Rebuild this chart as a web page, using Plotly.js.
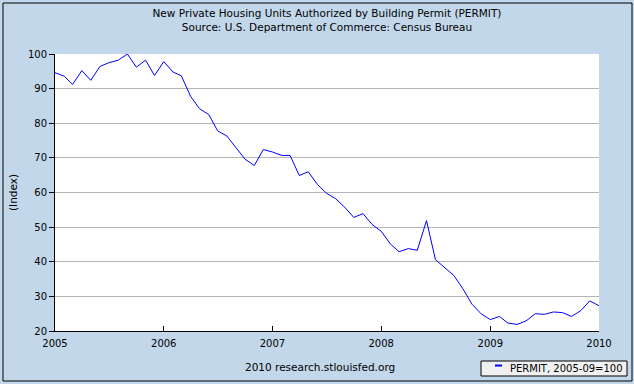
<!DOCTYPE html>
<html>
<head>
<meta charset="utf-8">
<script src="https://cdn.plot.ly/plotly-3.0.1.min.js"></script>
<style>html,body{margin:0;padding:0;background:#c2d7ea;}#chart{width:634px;height:384px;}</style>
</head>
<body>
<div id="chart"></div>
<script>
// Months (first of month), Jan 2005 .. Jan 2010
const months = [
  "2005-01-01","2005-02-01","2005-03-01","2005-04-01","2005-05-01","2005-06-01","2005-07-01","2005-08-01","2005-09-01","2005-10-01","2005-11-01","2005-12-01",
  "2006-01-01","2006-02-01","2006-03-01","2006-04-01","2006-05-01","2006-06-01","2006-07-01","2006-08-01","2006-09-01","2006-10-01","2006-11-01","2006-12-01",
  "2007-01-01","2007-02-01","2007-03-01","2007-04-01","2007-05-01","2007-06-01","2007-07-01","2007-08-01","2007-09-01","2007-10-01","2007-11-01","2007-12-01",
  "2008-01-01","2008-02-01","2008-03-01","2008-04-01","2008-05-01","2008-06-01","2008-07-01","2008-08-01","2008-09-01","2008-10-01","2008-11-01","2008-12-01",
  "2009-01-01","2009-02-01","2009-03-01","2009-04-01","2009-05-01","2009-06-01","2009-07-01","2009-08-01","2009-09-01","2009-10-01","2009-11-01","2009-12-01",
  "2010-01-01"
];
// PERMIT index, 2005-09 = 100
const permit = [
  94.6, 93.6, 91.2, 95.2, 92.4, 96.4, 97.5, 98.2, 100.0, 96.2, 98.2, 93.8,
  97.8, 94.8, 93.7, 87.8, 84.2, 82.5, 77.8, 76.3, 72.9, 69.6, 67.8, 72.4,
  71.7, 70.7, 70.7, 64.9, 66.0, 62.3, 59.8, 58.2, 55.7, 52.8, 53.9, 50.8,
  48.8, 45.1, 42.9, 43.8, 43.3, 51.9, 40.6, 38.2, 36.0, 32.2, 27.7, 25.0,
  23.3, 24.2, 22.3, 21.9, 22.9, 25.0, 24.8, 25.5, 25.3, 24.2, 25.9, 28.7,
  27.3
];
const yearTicks = ["2005-01-01","2006-01-01","2007-01-01","2008-01-01","2009-01-01","2010-01-01"];
const yearLabels = ["2005","2006","2007","2008","2009","2010"];
const seriesName = "PERMIT, 2005-09=100";
const titleText = "New Private Housing Units Authorized by Building Permit (PERMIT)<br>Source: U.S. Department of Commerce: Census Bureau";
const footerText = "2010 research.stlouisfed.org";

const W = 634, H = 384;
const M = {l: 55, r: 35, t: 54, b: 53};
const PW = W - M.l - M.r, PH = H - M.t - M.b;
const px = x => (x - M.l) / PW;
const py = y => (H - M.b - y) / PH;

const FONT = "DejaVu Sans, Verdana, sans-serif";
const BLUE = "#0000ff";

const trace = {
  x: months, y: permit, type: "scatter", mode: "lines",
  name: seriesName,
  line: {color: BLUE, width: 1},
  showlegend: false, hoverinfo: "x+y"
};

const layout = {
  width: W, height: H,
  margin: M,
  paper_bgcolor: "#c2d7ea",
  plot_bgcolor: "#ffffff",
  font: {family: FONT, size: 10, color: "#000"},
  title: {
    text: titleText,
    font: {family: FONT, size: 10.5, color: "#000"},
    x: 0.5, xref: "paper", xanchor: "center",
    y: 1 - 17 / H, yref: "container", yanchor: "top"
  },
  xaxis: {
    type: "date",
    range: ["2005-01-01", "2010-01-01"],
    tickmode: "array", tickvals: yearTicks, ticktext: yearLabels,
    ticks: "inside", ticklen: 5, tickcolor: "#000", tickwidth: 1,
    showline: true, linecolor: "#000", linewidth: 1,
    showgrid: false, zeroline: false,
    ticklabelstandoff: 3,
    tickfont: {family: FONT, size: 10, color: "#000"}
  },
  yaxis: {
    range: [20, 100], dtick: 10, tick0: 20,
    ticks: "outside", ticklen: 5, tickcolor: "#000", tickwidth: 1,
    showline: true, linecolor: "#000", linewidth: 1,
    showgrid: true, gridcolor: "#b5b5b5", gridwidth: 1,
    zeroline: false,
    tickfont: {family: FONT, size: 10, color: "#000"},
    title: {text: "(Index)", font: {family: FONT, size: 10.5, color: "#000"}, standoff: 8}
  },
  shapes: [
    // outer frame
    {type: "rect", xref: "paper", yref: "paper", x0: px(3), x1: px(632), y0: py(3), y1: py(381),
     line: {color: "#000", width: 1}, fillcolor: "rgba(0,0,0,0)", layer: "above"},
    // legend box
    {type: "rect", xref: "paper", yref: "paper", x0: px(481), x1: px(627), y0: py(361), y1: py(376),
     line: {color: "#000", width: 1}, fillcolor: "#f0f0f0", layer: "below"},
    // legend sample
    {type: "line", xref: "paper", yref: "paper", x0: px(495), x1: px(502), y0: py(365.5), y1: py(365.5),
     line: {color: BLUE, width: 2}}
  ],
  annotations: [
    {text: seriesName, xref: "paper", yref: "paper", x: px(508), y: py(368.5),
     xanchor: "left", yanchor: "middle", showarrow: false,
     font: {family: FONT, size: 10, color: "#000"}},
    {text: footerText, xref: "paper", yref: "paper", x: px(320), y: py(367),
     xanchor: "center", yanchor: "middle", showarrow: false,
     font: {family: FONT, size: 10.5, color: "#000"}}
  ]
};

Plotly.newPlot("chart", [trace], layout, {displayModeBar: false, staticPlot: true});
</script>
</body>
</html>
